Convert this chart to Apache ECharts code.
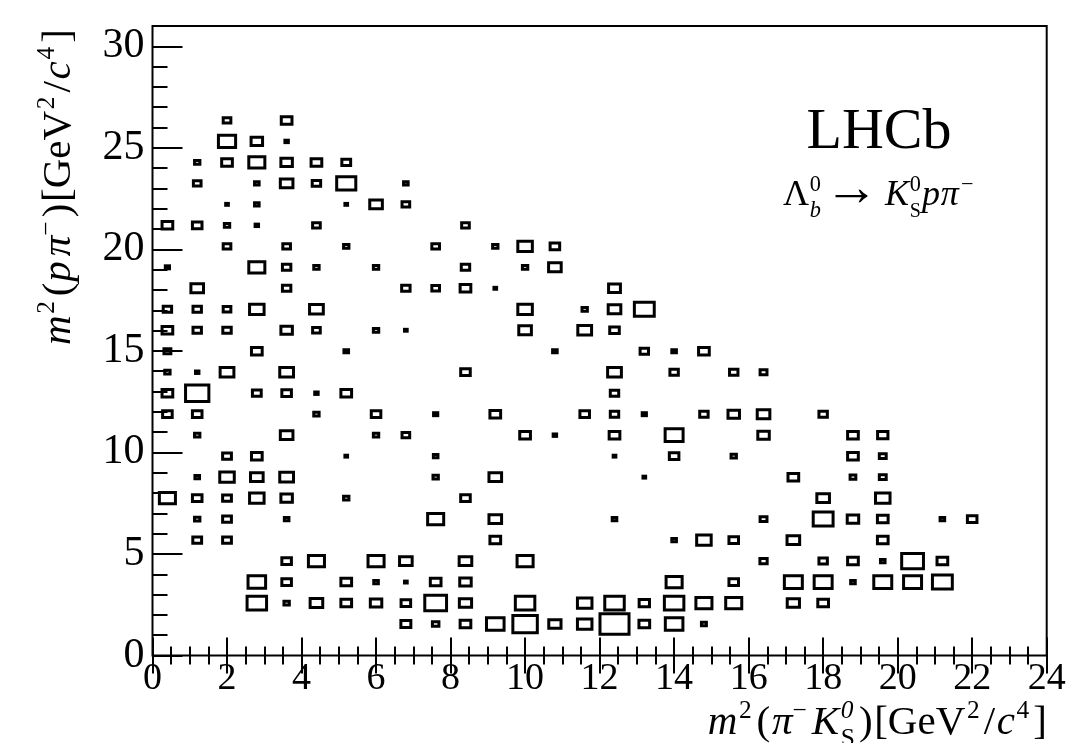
<!DOCTYPE html>
<html>
<head>
<meta charset="utf-8">
<title>LHCb Dalitz plot</title>
<script src="https://cdn.jsdelivr.net/npm/echarts@6/dist/echarts.min.js"></script>
<style>
  html, body { margin: 0; padding: 0; background: #fff; }
  #chart { width: 1079px; height: 743px; }
</style>
</head>
<body>
<div id="chart"></div>
<script>
// Binning of the 2D histogram: 30 bins in m2(pi- KS) over [0, 24], 30 bins in m2(p pi-) over [0, 31]
const X_LO = 0, X_BIN = 0.8;
const Y_LO = 0, Y_BIN = 31 / 30;
// Content that fills a whole cell with its box
const BOX_FULL = 7.8;

// Bin contents, one array per m2(p pi-) bin: [x bin index, content]
const row01 = [[8, 2.6], [9, 1.7], [10, 2.8], [11, 4.6], [12, 6.4], [13, 3.2], [14, 3.8], [15, 7.6], [16, 2.8], [17, 4.6], [18, 1.3]];
const row02 = [[3, 5.1], [4, 1.4], [5, 3.3], [6, 2.8], [7, 3.0], [8, 2.5], [9, 5.7], [10, 3.2], [12, 5.1], [14, 3.8], [15, 5.1], [16, 2.7], [17, 5.1], [18, 4.2], [19, 4.2], [21, 3.2], [22, 2.8]];
const row03 = [[3, 4.6], [4, 2.5], [6, 2.8], [7, 1.2], [8, 0.7], [9, 2.8], [10, 3.0], [17, 4.2], [19, 2.5], [21, 4.7], [22, 4.7], [23, 1.2], [24, 4.7], [25, 4.7], [26, 5.2]];
const row04 = [[4, 2.5], [5, 4.2], [7, 4.2], [8, 3.3], [10, 3.3], [12, 4.2], [20, 1.9], [22, 2.2], [23, 2.8], [24, 1.2], [25, 5.7], [26, 2.8]];
const row05 = [[1, 2.3], [2, 2.3], [11, 2.8], [17, 1.2], [18, 3.8], [19, 2.5], [21, 3.3], [24, 2.8]];
const row06 = [[1, 1.4], [2, 2.3], [4, 1.2], [9, 4.2], [11, 3.3], [15, 1.2], [20, 1.8], [22, 5.2], [23, 3.0], [24, 2.8], [26, 1.2], [27, 2.5]];
const row07 = [[0, 4.2], [1, 2.5], [2, 2.3], [3, 3.8], [4, 3.0], [6, 1.4], [10, 2.5], [22, 3.3], [24, 3.8]];
const row08 = [[1, 1.2], [2, 3.8], [3, 3.3], [4, 3.6], [9, 1.4], [11, 3.3], [16, 0.7], [21, 2.8], [23, 1.5], [24, 1.8]];
const row09 = [[2, 2.3], [3, 2.8], [6, 0.7], [9, 1.2], [15, 0.7], [17, 2.5], [19, 1.4], [23, 2.8], [24, 1.8]];
const row10 = [[1, 1.4], [4, 3.3], [7, 1.4], [8, 2.0], [12, 2.8], [13, 0.9], [15, 2.8], [17, 4.7], [20, 3.0], [23, 2.8], [24, 2.7]];
const row11 = [[0, 2.5], [1, 2.5], [5, 1.4], [7, 2.5], [9, 1.1], [11, 2.8], [14, 2.5], [15, 2.2], [16, 1.1], [18, 2.2], [19, 3.0], [20, 3.3], [22, 2.2]];
const row12 = [[0, 2.8], [1, 6.1], [3, 2.3], [4, 2.5], [5, 0.9], [6, 2.8], [15, 2.2]];
const row13 = [[0, 1.4], [1, 0.9], [2, 3.6], [4, 3.6], [10, 2.5], [15, 3.6], [17, 2.2], [19, 2.2], [20, 1.8]];
const row14 = [[0, 1.8], [3, 2.8], [6, 1.2], [13, 1.2], [16, 2.2], [17, 1.2], [18, 2.8]];
const row15 = [[0, 2.8], [1, 2.2], [2, 2.2], [4, 3.0], [5, 2.0], [7, 1.4], [8, 0.7], [12, 3.3], [14, 3.6], [15, 2.5]];
const row16 = [[0, 2.2], [1, 2.2], [2, 2.0], [3, 3.8], [5, 3.6], [12, 3.8], [14, 1.4], [15, 3.3], [16, 5.2]];
const row17 = [[1, 3.3], [4, 2.2], [8, 2.2], [9, 2.0], [10, 2.8], [11, 0.7], [15, 3.1]];
const row18 = [[0, 1.1], [3, 4.2], [4, 2.2], [5, 1.4], [7, 1.4], [10, 2.2], [12, 1.4], [13, 3.3]];
const row19 = [[2, 2.0], [4, 2.0], [6, 1.4], [9, 2.0], [11, 1.4], [12, 3.8], [13, 2.5]];
const row20 = [[0, 2.8], [1, 2.5], [2, 1.4], [3, 0.9], [5, 2.0], [10, 2.0]];
const row21 = [[2, 0.7], [3, 1.2], [6, 0.7], [7, 3.3], [8, 2.0]];
const row22 = [[1, 2.0], [3, 1.2], [4, 3.3], [5, 2.2], [6, 5.0], [8, 1.2]];
const row23 = [[1, 1.4], [2, 2.8], [3, 4.2], [4, 3.0], [5, 2.8], [6, 2.3]];
const row24 = [[2, 4.5], [3, 3.0], [4, 0.9]];
const row25 = [[2, 2.0], [4, 2.8]];

const rowsByYBin = [
  [1, row01], [2, row02], [3, row03], [4, row04], [5, row05], [6, row06], [7, row07],
  [8, row08], [9, row09], [10, row10], [11, row11], [12, row12], [13, row13], [14, row14],
  [15, row15], [16, row16], [17, row17], [18, row18], [19, row19], [20, row20], [21, row21],
  [22, row22], [23, row23], [24, row24], [25, row25]
];

// Axis tick values
const xTicks = { min: 0, max: 24, step: 2, minorSplit: 4 };
const yTicks = { min: 0, max: 31, step: 5, minorStep: 1 };

// Flatten to [x centre, y centre, content]
const cells = [];
rowsByYBin.forEach(([j, row]) => {
  row.forEach(([i, c]) => {
    cells.push([X_LO + (i + 0.5) * X_BIN, Y_LO + (j + 0.5) * Y_BIN, c]);
  });
});

// ---- small typesetting helper for the LaTeX-like labels ----
const SERIF = '"Liberation Serif", "Times New Roman", serif';
const measure = document.createElement('canvas').getContext('2d');
const MID_ABOVE_BASELINE = 0.305;
function fontSpec(px, italic) {
  return (italic ? 'italic ' : '') + px.toFixed(1) + 'px ' + SERIF;
}
// pieces: {t, it, scale, rise (em), gap (em), under (stack below previous piece)}
function typeset(pieces, base) {
  let pen = 0, stackX = 0;
  const items = [];
  pieces.forEach(p => {
    const px = base * (p.scale || 1);
    const font = fontSpec(px, p.it);
    measure.font = font;
    const w = measure.measureText(p.t).width;
    let x;
    if (p.under) {
      x = stackX;
      pen = Math.max(pen, x + w);
    } else {
      pen += (p.gap || 0) * base;
      x = pen;
      stackX = x;
      pen += w;
    }
    items.push({
      type: 'text', silent: true,
      x: x, y: -(p.rise || 0) * base - MID_ABOVE_BASELINE * px,
      style: { text: p.t, font: font, fill: '#000', align: 'left', verticalAlign: 'middle' }
    });
  });
  return { items: items, width: pen };
}

const SUP = 0.62;
const xTitle = typeset([
  { t: 'm', it: true },
  { t: '2', scale: SUP, rise: 0.42, gap: 0.04 },
  { t: '(', gap: 0.12 },
  { t: 'π', it: true, gap: 0.04 },
  { t: '−', scale: SUP, rise: 0.42 },
  { t: 'K', it: true, gap: 0.12 },
  { t: '0', it: true, scale: SUP, rise: 0.42, gap: 0.04 },
  { t: 'S', scale: SUP, rise: -0.28, under: true },
  { t: ')', gap: 0.1 },
  { t: '[GeV', gap: 0.04 },
  { t: '2', scale: SUP, rise: 0.42, gap: 0.04 },
  { t: '/', gap: 0.1 },
  { t: 'c', it: true, gap: 0.04 },
  { t: '4', scale: SUP, rise: 0.42, gap: 0.04 },
  { t: ']', gap: 0.1 }
], 41);

const yTitle = typeset([
  { t: 'm', it: true },
  { t: '2', scale: SUP, rise: 0.42, gap: 0.04 },
  { t: '(', gap: 0.12 },
  { t: 'p', it: true, gap: 0.02 },
  { t: 'π', it: true, gap: 0.12 },
  { t: '−', scale: SUP, rise: 0.42 },
  { t: ')', gap: 0.1 },
  { t: '[GeV', gap: 0.04 },
  { t: '2', scale: SUP, rise: 0.42, gap: 0.04 },
  { t: '/', gap: 0.1 },
  { t: 'c', it: true, gap: 0.04 },
  { t: '4', scale: SUP, rise: 0.42, gap: 0.04 },
  { t: ']', gap: 0.1 }
], 41);

const decay = typeset([
  { t: 'Λ' },
  { t: '0', scale: SUP, rise: 0.42, gap: 0.02 },
  { t: 'b', it: true, scale: SUP, rise: -0.3, under: true },
  { t: '→', gap: 0.1, scale: 1.5, rise: 0.0 },
  { t: 'K', it: true, gap: 0.18 },
  { t: '0', scale: SUP, rise: 0.42, gap: 0.02 },
  { t: 'S', scale: SUP * 0.9, rise: -0.3, under: true },
  { t: 'p', it: true, gap: 0.03 },
  { t: 'π', it: true, gap: 0.02 },
  { t: '−', scale: SUP, rise: 0.42, gap: 0.06 }
], 36);

const chart = echarts.init(document.getElementById('chart'), null, { renderer: 'canvas' });

const tickLine = { color: '#000', width: 2 };
const labelFont = { fontFamily: SERIF, color: '#000' };

chart.setOption({
  backgroundColor: '#fff',
  animation: false,
  grid: {
    left: 152.5, right: 32.3, top: 26, bottom: 87.5,
    show: true, borderColor: '#000', borderWidth: 2, backgroundColor: 'transparent'
  },
  xAxis: [
    {
      type: 'value', position: 'bottom',
      min: xTicks.min, max: xTicks.max, interval: xTicks.step,
      axisLine: { show: false }, splitLine: { show: false },
      axisTick: { inside: true, length: 18, lineStyle: tickLine },
      minorTick: { show: true, splitNumber: xTicks.minorSplit, length: 9, lineStyle: tickLine },
      axisLabel: Object.assign({ margin: 5, fontSize: 38 }, labelFont)
    },
    {
      type: 'value', position: 'top',
      min: xTicks.min, max: xTicks.max, interval: xTicks.step,
      axisLine: { show: false }, splitLine: { show: false },
      axisTick: { inside: true, length: 18, lineStyle: tickLine },
      minorTick: { show: true, splitNumber: xTicks.minorSplit, length: 9, lineStyle: tickLine },
      axisLabel: { show: false }
    }
  ],
  yAxis: [
    {
      type: 'value', position: 'left',
      min: yTicks.min, max: yTicks.max, interval: yTicks.step,
      axisLine: { show: false }, splitLine: { show: false },
      axisTick: { inside: true, length: 30, lineStyle: tickLine },
      axisLabel: Object.assign({
        margin: 8, fontSize: 42, showMaxLabel: false,
        formatter: v => (v % yTicks.step === 0 ? String(v) : '')
      }, labelFont)
    },
    {
      type: 'value', position: 'left',
      min: yTicks.min, max: yTicks.max, interval: yTicks.minorStep,
      axisLine: { show: false }, splitLine: { show: false },
      axisTick: { inside: true, length: 15, lineStyle: tickLine },
      axisLabel: { show: false }
    }
  ],
  series: [{
    type: 'custom',
    coordinateSystem: 'cartesian2d',
    xAxisIndex: 0, yAxisIndex: 0,
    data: cells,
    encode: { x: 0, y: 1 },
    clip: false,
    silent: true,
    renderItem: function (params, api) {
      const c = api.value(2);
      const centre = api.coord([api.value(0), api.value(1)]);
      const size = api.size([X_BIN * c / BOX_FULL, Y_BIN * c / BOX_FULL]);
      return {
        type: 'rect',
        shape: { x: centre[0] - size[0] / 2, y: centre[1] - size[1] / 2, width: size[0], height: size[1] },
        style: { fill: 'transparent', stroke: '#000', lineWidth: 3 }
      };
    }
  }],
  graphic: [
    { type: 'group', x: 1047 - xTitle.width, y: 736, children: xTitle.items },
    { type: 'group', x: 72, y: 345, rotation: Math.PI / 2, children: yTitle.items },
    {
      type: 'text', silent: true, x: 879, y: 150 - MID_ABOVE_BASELINE * 58,
      style: { text: 'LHCb', font: fontSpec(58, false), fill: '#000', align: 'center', verticalAlign: 'middle' }
    },
    { type: 'group', x: 783, y: 207, children: decay.items }
  ]
});
</script>
</body>
</html>
